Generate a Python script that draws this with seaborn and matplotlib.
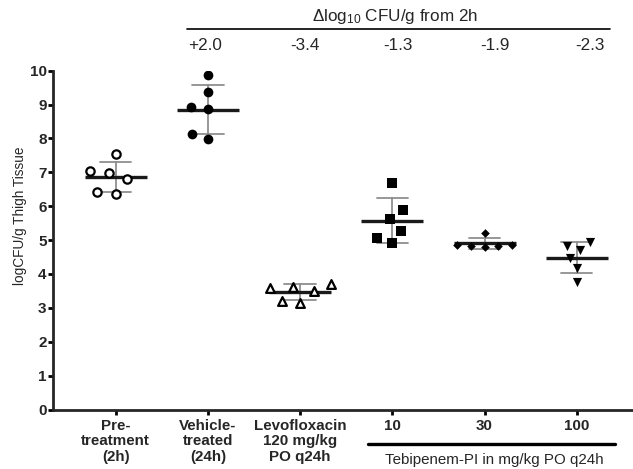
import numpy as np
import pandas as pd
import matplotlib
matplotlib.use("Agg")
import matplotlib.pyplot as plt
from matplotlib.lines import Line2D
from matplotlib.path import Path
import seaborn as sns

# ---------------- data ----------------
groups = ["Pre-\ntreatment\n(2h)", "Vehicle-\ntreated\n(24h)", "Levofloxacin\n120 mg/kg\nPO q24h",
          "10", "30", "100"]
pre_treatment = [7.53, 7.05, 6.99, 6.80, 6.36, 6.41]
vehicle = [9.87, 9.36, 8.86, 8.92, 7.98, 8.13]
levofloxacin = [3.59, 3.70, 3.50, 3.62, 3.15, 3.20]
tebi_10 = [6.70, 5.89, 5.62, 5.28, 4.90, 5.06]
tebi_30 = [5.22, 4.82, 4.87, 4.84, 4.87, 4.79]
tebi_100 = [4.94, 4.84, 4.72, 4.48, 4.17, 3.75]
delta_labels = ["+2.0", "-3.4", "-1.3", "-1.9", "-2.3"]

series = [pre_treatment, vehicle, levofloxacin, tebi_10, tebi_30, tebi_100]
df = pd.DataFrame({
    "group": np.repeat(groups, [len(s) for s in series]),
    "value": np.concatenate(series),
})

# marker styles per group: (marker, face, drawn size, edge lw, swarm spacing size)
styles = [("o", "white", 6.0, 1.6, 11.5),
          ("o", "black", 7.0, 0.0, 11.5),
          ("^", "white", 6.3, 1.6, 11.0),
          ("s", "black", 6.8, 0.0, 11.0),
          ("D", "black", 4.4, 0.0, 9.6),
          ("v", "black", 6.6, 0.0, 9.0)]

# ---------------- style ----------------
sns.set_style("ticks")
plt.rcParams["font.family"] = ["Liberation Sans", "DejaVu Sans"]
plt.rcParams["mathtext.default"] = "regular"

W, H = 633, 469
fig = plt.figure(figsize=(W / 100, H / 100), dpi=100)
ax = fig.add_axes([53 / W, (H - 409.5) / H, (W - 53) / W, (409.5 - 70.7) / H])

# error bars (mean +/- SD)
sns.pointplot(data=df, x="group", y="value", order=groups, errorbar="sd",
              capsize=0.34, color="#8f8f8f", linestyle="none", markers="o",
              markersize=0, err_kws={"linewidth": 1.3}, ax=ax, zorder=1)
# mean lines
sns.pointplot(data=df, x="group", y="value", order=groups, errorbar=None,
              color="#1a1a1a", linestyle="none", markers="_",
              markersize=44, markeredgewidth=2.4, ax=ax, zorder=2)
# individual points (swarm spacing wider than the drawn marker, like Prism)
for g, (m, face, sz, lw, spacing) in zip(groups, styles):
    sub = df[df["group"] == g]
    n_before = len(ax.collections)
    sns.swarmplot(data=sub, x="group", y="value", order=groups, marker=m,
                  color=face, edgecolor="black", linewidth=lw, size=spacing,
                  ax=ax, zorder=3)
    f = sz / spacing
    for coll in ax.collections[n_before:]:
        coll.set_paths([Path(p.vertices * f, p.codes) for p in coll.get_paths()])

ax.set_xlim(-0.68, 5.61)
ax.set_ylim(0, 10)
ax.set_yticks(range(0, 11))
ax.set_xticks(range(len(groups)))
ax.set_xticklabels(groups, fontsize=10.9, fontweight="bold", linespacing=1.15)
for lab in ax.get_yticklabels():
    lab.set_fontweight("bold")
    lab.set_fontsize(11)
ax.set_xlabel("")
ax.set_ylabel("")
sns.despine(ax=ax)
for side in ["left", "bottom"]:
    ax.spines[side].set_linewidth(2.0)
ax.tick_params(axis="both", length=3.6, width=2.0, color="black")
ax.tick_params(axis="y", pad=1.0)
ax.tick_params(axis="x", pad=3.0)

fig.text(20 / W, 1 - 216 / H, "logCFU/g Thigh Tissue", rotation=90,
         ha="center", va="center", fontsize=9.8)

# ---------------- top annotation ----------------
def fy(px):
    return 1 - px / H

fig.text(395 / W, fy(16.7), "\u0394log$_{10}$ CFU/g from 2h", ha="center",
         va="center", fontsize=12.3)
fig.add_artist(Line2D([186.7 / W, 610 / W], [fy(29), fy(29)], color="black",
                      linewidth=1.2, transform=fig.transFigure))
delta_x = [205, 305, 398, 495, 590]
for x, t in zip(delta_x, delta_labels):
    fig.text(x / W, fy(45), t, ha="center", va="center", fontsize=12.3)

# ---------------- bottom annotation ----------------
fig.add_artist(Line2D([368 / W, 615 / W], [fy(444), fy(444)], color="black",
                      linewidth=2.4, transform=fig.transFigure))
fig.text(494 / W, fy(459.5), "Tebipenem-PI in mg/kg PO q24h", ha="center",
         va="center", fontsize=10.9)

fig.savefig("out.png", dpi=100)
